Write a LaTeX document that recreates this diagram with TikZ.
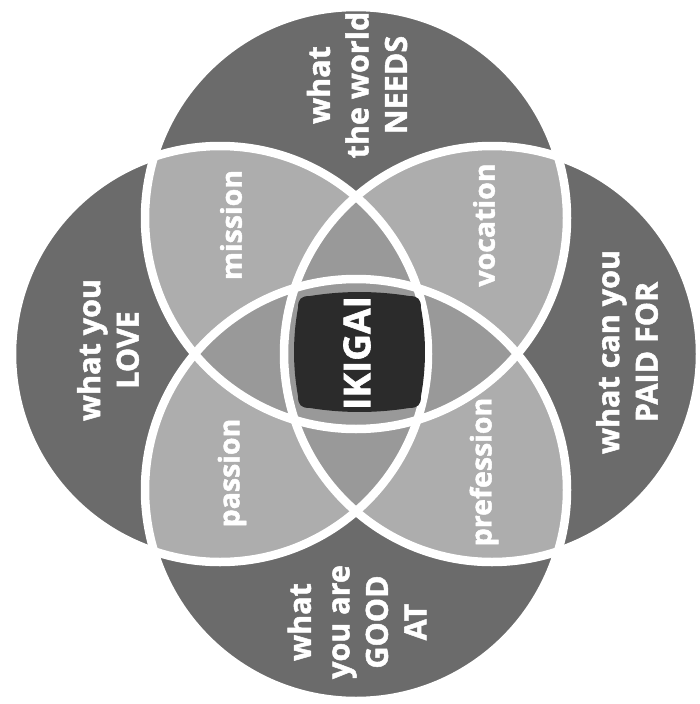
\documentclass[tikz,border=0pt]{standalone}
\usepackage{fontspec}
\setmainfont{Open Sans}[BoldFeatures={FakeBold=1.6}]
\begin{document}
\begin{tikzpicture}[x=1pt,y=-1pt,
  outerfill/.style={fill=black!58},
  petalfill/.style={fill=black!32},
  midfill/.style={fill=black!40},
  ring/.style={draw=white,line width=8.5pt},
  biglbl/.style={text=white,font=\fontsize{30.5}{38.5}\selectfont\bfseries,align=center,rotate=90,inner sep=0pt},
  petallbl/.style={text=white,font=\fontsize{28.5}{32}\selectfont\bfseries,rotate=90,inner sep=0pt},
  corelbl/.style={text=white,font=\fontsize{37}{40}\selectfont\bfseries,rotate=90,inner sep=0pt}]
\useasboundingbox[fill=white] (0,0) rectangle (699,704);
\coordinate (T) at (356,218);
\coordinate (B) at (356,490);
\coordinate (L) at (220,354);
\coordinate (R) at (492,354);
\def\rv{211}
\def\rh{208}
% single circles
\fill[outerfill] (T) circle (\rv);
\fill[outerfill] (B) circle (\rv);
\fill[outerfill] (L) circle (\rh);
\fill[outerfill] (R) circle (\rh);
% two-circle petals
\begin{scope}
  \clip (T) circle (\rv);
  \fill[petalfill] (L) circle (\rh);
  \fill[petalfill] (R) circle (\rh);
\end{scope}
\begin{scope}
  \clip (B) circle (\rv);
  \fill[petalfill] (L) circle (\rh);
  \fill[petalfill] (R) circle (\rh);
\end{scope}
% three and four overlaps
\begin{scope}
  \clip (T) circle (\rv);
  \fill[midfill] (B) circle (\rv);
\end{scope}
\begin{scope}
  \clip (L) circle (\rh);
  \fill[midfill] (R) circle (\rh);
\end{scope}
% white rings
\draw[ring] (T) circle (\rv);
\draw[ring] (B) circle (\rv);
\draw[ring] (L) circle (\rh);
\draw[ring] (R) circle (\rh);
% centre box
\fill[black!83]
  (310,296) .. controls (343,290.7) and (376,290.7) .. (409,296)
  .. controls (418,296) and (421,299) .. (421,308)
  .. controls (426.3,337) and (426.3,367) .. (421,396)
  .. controls (421,405) and (418,408) .. (409,408)
  .. controls (376,413.3) and (343,413.3) .. (310,408)
  .. controls (301,408) and (298,405) .. (298,396)
  .. controls (292.7,367) and (292.7,337) .. (298,308)
  .. controls (298,299) and (301,296) .. (310,296) -- cycle;
% labels
\node[corelbl] (ikigai) at (357,353) {IKIGAI};
\node[biglbl] (needs) at (357,85) {what\\the world\\NEEDS};
\node[biglbl] (love) at (108,350) {what you\\LOVE};
\node[biglbl] (paid) at (627,352) {what can you\\PAID FOR};
\node[biglbl] (good) at (357,622) {what\\you are\\GOOD\\AT};
\node[petallbl] (mission) at (231,225) {mission};
\node[petallbl] (vocation) at (484,225) {vocation};
\node[petallbl] (passion) at (232,473) {passion};
\node[petallbl] (profession) at (484,472) {prefession};
\end{tikzpicture}
\end{document}
